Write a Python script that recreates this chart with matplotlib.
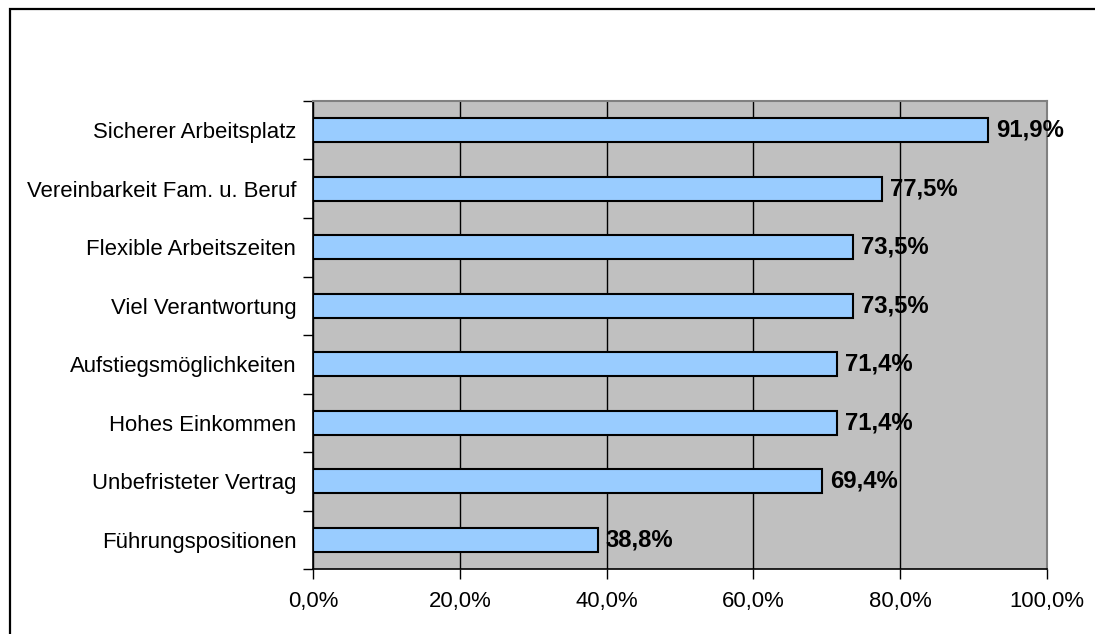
import numpy as np
import matplotlib
matplotlib.use("Agg")
import matplotlib.pyplot as plt
from matplotlib.patches import Rectangle
from matplotlib.ticker import FixedLocator, FuncFormatter

plt.rcParams['font.family'] = ['Liberation Sans', 'DejaVu Sans']

# -------------------- Data --------------------
categories = [
    "Sicherer Arbeitsplatz",
    "Vereinbarkeit Fam. u. Beruf",
    "Flexible Arbeitszeiten",
    "Viel Verantwortung",
    "Aufstiegsmöglichkeiten",
    "Hohes Einkommen",
    "Unbefristeter Vertrag",
    "Führungspositionen",
]
values = [91.9, 77.5, 73.5, 73.5, 71.4, 71.4, 69.4, 38.8]
x_ticks = [0, 20, 40, 60, 80, 100]

def de_pct(v):
    return f"{v:.1f}%".replace(".", ",")

# -------------------- Figure --------------------
fig = plt.figure(figsize=(10.95, 6.34), dpi=100)
ax = fig.add_axes([0.2858, 0.1025, 0.6704, 0.7382])

n = len(categories)
y = np.arange(n)
ax.barh(y, values, height=0.41, color="#99CCFF", edgecolor="black",
        linewidth=1.5, zorder=3)

ax.set_facecolor("#C0C0C0")
ax.set_xlim(0, 100)
ax.set_ylim(n - 0.5, -0.5)

# vertical gridlines
ax.xaxis.set_major_locator(FixedLocator(x_ticks))
ax.xaxis.set_major_formatter(FuncFormatter(lambda v, p: de_pct(v)))
ax.grid(axis="x", color="black", linewidth=1.0, zorder=1)
ax.set_axisbelow(True)

# category labels centered, ticks at the boundaries
ax.set_yticks(y)
ax.set_yticklabels(categories, fontsize=15.9)
ax.set_yticks(np.arange(-0.5, n, 1.0), minor=True)
ax.tick_params(axis="y", which="major", length=0, pad=12)
ax.tick_params(axis="y", which="minor", length=7, width=1.0, direction="out")
ax.tick_params(axis="x", length=7, width=1.0, direction="out", pad=9,
               labelsize=15.9)

for side in ("top", "right"):
    ax.spines[side].set_color("#808080")
    ax.spines[side].set_linewidth(1.5)
for side in ("left", "bottom"):
    ax.spines[side].set_color("black")
    ax.spines[side].set_linewidth(1.2)

# value labels next to each bar
for yi, v in zip(y, values):
    ax.text(v + 1.1, yi, de_pct(v), ha="left", va="center",
            fontsize=17.2, fontweight="bold", zorder=4)

# outer frame
fig.patches.append(Rectangle((9.5 / 1095, -0.1), 1.2, 1.1 - 9.5 / 634,
                             transform=fig.transFigure, fill=False,
                             edgecolor="black", linewidth=1.6))

fig.savefig("out.png", dpi=100)
